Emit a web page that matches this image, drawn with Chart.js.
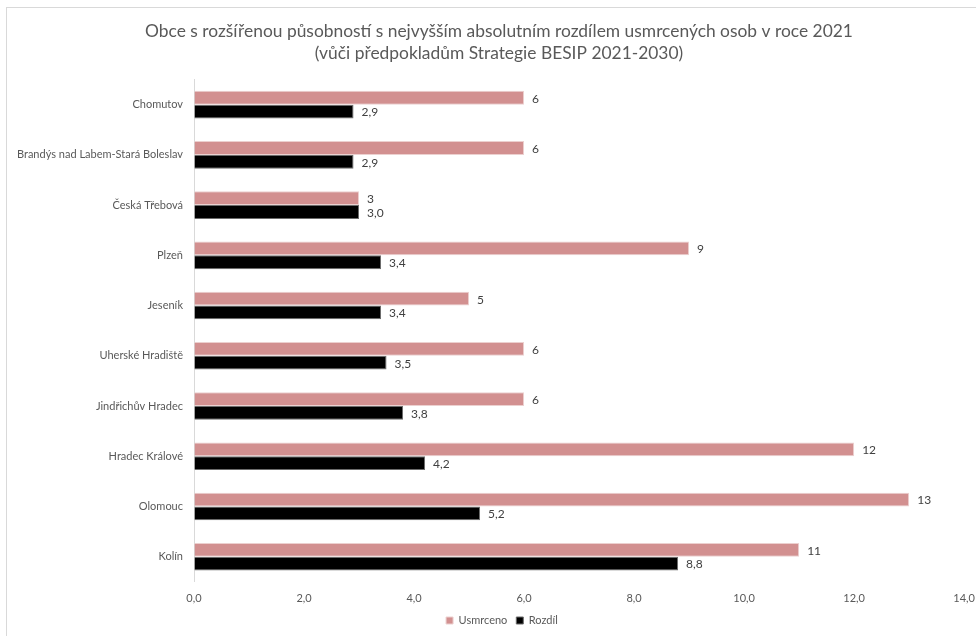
<!DOCTYPE html>
<html>
<head>
<meta charset="utf-8">
<script src="https://cdn.jsdelivr.net/npm/chart.js@4.4.0/dist/chart.umd.min.js"></script>
<style>
    html, body { margin: 0; padding: 0; background: #fff; overflow: hidden; }
    #wrap { position: relative; width: 976px; height: 636px; }
    #frame { position: absolute; left: 6px; top: 7px; width: 1000px; height: 700px; border-top: 1px solid #d9d9d9; border-left: 1px solid #d9d9d9; }
    canvas { position: absolute; left: 0; top: 0; }
</style>
</head>
<body>
<div id="wrap">
    <div id="frame"></div>
    <canvas id="chart" width="976" height="636"></canvas>
</div>
<script>
const cities = ["Chomutov", "Brandýs nad Labem-Stará Boleslav", "Česká Třebová", "Plzeň", "Jeseník",
    "Uherské Hradiště", "Jindřichův Hradec", "Hradec Králové", "Olomouc", "Kolín"];
const usmrceno = [6, 6, 3, 9, 5, 6, 6, 12, 13, 11];
const rozdil = [2.9, 2.9, 3.0, 3.4, 3.4, 3.5, 3.8, 4.2, 5.2, 8.8];
const titleLines = ["Obce s rozšířenou působností s nejvyšším absolutním rozdílem usmrcených osob v roce 2021",
    "(vůči předpokladům Strategie BESIP 2021-2030)"];

const FONT = "Lato";
const GRAY = "#595959";

const fmt = (v, dec) => v.toFixed(dec).replace(".", ",");

// value labels right of each bar
const barLabels = {
    id: "barLabels",
    afterDatasetsDraw(chart) {
        const ctx = chart.ctx;
        ctx.save();
        ctx.font = `12px ${FONT}`;
        ctx.fillStyle = "#404040";
        ctx.textBaseline = "middle";
        ctx.textAlign = "left";
        chart.data.datasets.forEach((ds, i) => {
            const meta = chart.getDatasetMeta(i);
            meta.data.forEach((bar, j) => {
                ctx.fillText(fmt(ds.data[j], ds.decimals), bar.x + 8, bar.y + 1);
            });
        });
        ctx.restore();
    }
};

// title and legend sit a little right of the canvas centre
const shiftBoxes = {
    id: "shiftBoxes",
    afterLayout(chart) {
        chart.titleBlock.left += 11;
        chart.titleBlock.right += 11;
        chart.legend.left += 14;
        chart.legend.right += 14;
    }
};

new Chart(document.getElementById("chart"), {
    type: "bar",
    data: {
        labels: cities,
        datasets: [
            {
                label: "Usmrceno",
                data: usmrceno,
                decimals: 0,
                backgroundColor: "#d29090",
                borderColor: "#ecd0cf",
                borderWidth: 1
            }, {
                label: "Rozdíl",
                data: rozdil,
                decimals: 1,
                backgroundColor: "#000000",
                borderColor: "#6b6b6b",
                borderWidth: 1
            }
        ]
    },
    options: {
        indexAxis: "y",
        responsive: false,
        animation: false,
        datasets: {
            bar: { categoryPercentage: 0.55, barPercentage: 1.0 }
        },
        layout: { padding: { left: 0, right: 0, top: 0, bottom: 0 } },
        plugins: {
            title: {
                display: true,
                text: titleLines,
                color: GRAY,
                font: { family: FONT, size: 17.4, weight: "normal", lineHeight: 1.28 },
                padding: { top: 20, bottom: 15 }
            },
            legend: {
                position: "bottom",
                labels: {
                    color: GRAY,
                    font: { family: FONT, size: 11 },
                    boxWidth: 7,
                    boxHeight: 7,
                    padding: 9
                }
            },
            tooltip: { enabled: false }
        },
        scales: {
            x: {
                min: 0,
                max: 14,
                ticks: {
                    stepSize: 2,
                    color: GRAY,
                    font: { family: FONT, size: 11 },
                    padding: 1,
                    callback: v => fmt(v, 1)
                },
                // invisible tick marks keep the labels clear of the bars
                grid: { display: true, drawOnChartArea: false, drawTicks: true, tickLength: 9, color: "transparent" },
                border: { display: false }
            },
            y: {
                ticks: {
                    color: GRAY,
                    font: { family: FONT, size: 11 },
                    padding: 11
                },
                grid: { display: false, drawTicks: false },
                border: { display: true, color: "#d9d9d9" },
                afterFit(scale) { scale.width = 194; }
            }
        }
    },
    plugins: [barLabels, shiftBoxes]
});
</script>
</body>
</html>
